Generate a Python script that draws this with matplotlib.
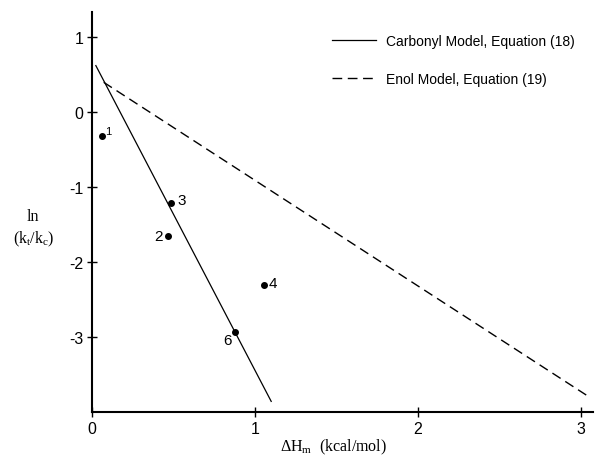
import matplotlib
matplotlib.use("Agg")
import matplotlib.pyplot as plt
from matplotlib.lines import Line2D

plt.rcParams['font.family'] = ['Liberation Sans', 'DejaVu Sans']
plt.rcParams['mathtext.fontset'] = 'custom'
plt.rcParams['mathtext.rm'] = 'Liberation Serif'
plt.rcParams['mathtext.it'] = 'Liberation Serif:italic'

# Data points
pt_labels = ["1", "3", "2", "4", "6"]
pt_x = [0.061, 0.481, 0.467, 1.056, 0.876]
pt_y = [-0.32, -1.21, -1.65, -2.30, -2.93]

# Model lines
carbonyl_x = [0.02, 1.10]
carbonyl_y = [0.63, -3.86]
enol_x = [0.07, 3.055]
enol_y = [0.40, -3.80]

xticks = [0, 1, 2, 3]
xticklabels = ["0", "1", "2", "3"]
yticks = [1, 0, -1, -2, -3]
yticklabels = ["1", "0", "-1", "-2", "-3"]

W, H = 595, 460
fig = plt.figure(figsize=(W / 100, H / 100), dpi=100)
ax = fig.add_axes([92.3 / W, 1 - 412.7 / H, (593 - 92.3) / W, (412.7 - 13) / H])
ax.set_xlim(0, (593 - 92.3) / 162.9)
ax.set_ylim(-3.99, 1.337)

ax.plot(carbonyl_x, carbonyl_y, color='black', lw=0.9, solid_capstyle='butt')
ax.plot(enol_x, enol_y, color='black', lw=1.0, linestyle=(0, (7, 4)))
ax.plot(pt_x, pt_y, 'o', color='black', markersize=4)

offsets = {"1": (6, 5), "3": (11, 3), "2": (-10, 0), "4": (9, 2), "6": (-8, -8)}
sizes = {"1": 8, "3": 11, "2": 11, "4": 11, "6": 11}
for lab, x, y in zip(pt_labels, pt_x, pt_y):
    ax.annotate(lab, (x, y), xytext=offsets[lab], textcoords='offset pixels',
                ha='center', va='center', fontsize=sizes[lab])

for s in ['top', 'right']:
    ax.spines[s].set_visible(False)
for s in ['left', 'bottom']:
    ax.spines[s].set_linewidth(1.5)

ax.set_xticks(xticks)
ax.set_xticklabels(xticklabels)
ax.set_yticks(yticks)
ax.set_yticklabels(yticklabels)
ax.tick_params(direction='inout', length=7, width=1.0, labelsize=11.5, pad=3)

# Legend
handles = [Line2D([], [], color='black', lw=0.9),
           Line2D([], [], color='black', lw=1.0, linestyle=(0, (7, 4)))]
labels = ["Carbonyl Model, Equation (18)", "Enol Model, Equation (19)"]
fig.legend(handles, labels, loc='upper left', bbox_to_anchor=(332 / W, 1 - 35 / H),
           frameon=False, fontsize=10, handlelength=3.2, handletextpad=0.7,
           labelspacing=1.75, borderpad=0, borderaxespad=0)

# Axis labels
fig.text(33 / W, 1 - 217 / H, "ln", family='Liberation Serif', fontsize=11.5,
         ha='center', va='center')
fig.text(34 / W, 1 - 239 / H, r"(k$_\mathrm{t}$/k$_\mathrm{c}$)", family='Liberation Serif',
         fontsize=11.5, ha='center', va='center')
fig.text(334 / W, 1 - 447 / H, r"ΔH$_\mathrm{m}$  (kcal/mol)", family='Liberation Serif',
         fontsize=11.5, ha='center', va='center')

fig.savefig("out.png", dpi=100)
